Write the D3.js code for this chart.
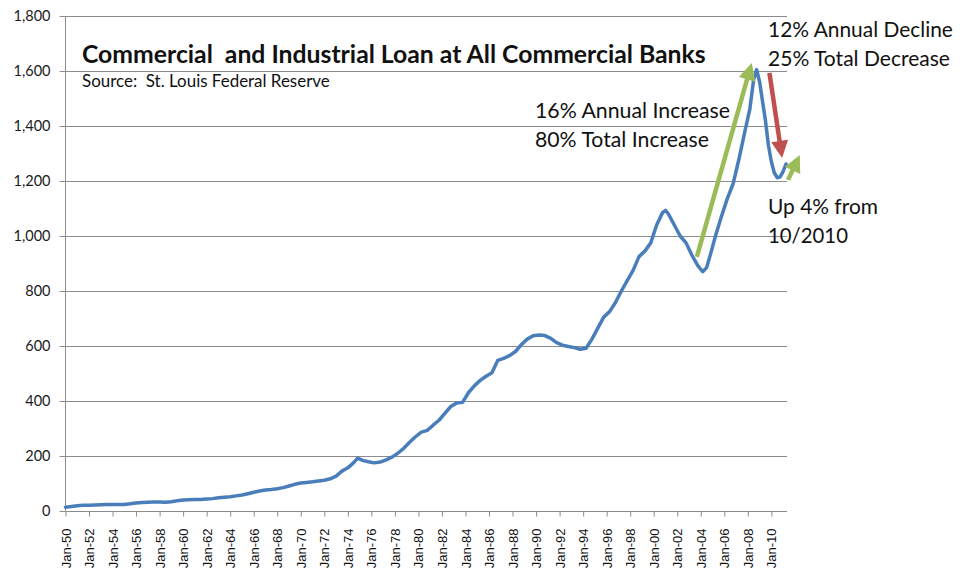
<!DOCTYPE html>
<html>
<head>
<meta charset="utf-8">
<script src="https://cdn.jsdelivr.net/npm/d3@7"></script>
<style>
  html, body { margin: 0; padding: 0; background: #fff; }
  svg { display: block; }
</style>
</head>
<body>
<svg id="chart" width="972" height="569"></svg>
<script>
// Commercial and industrial loans, all commercial banks (billions of dollars)
const months = [
  "1950-01","1950-07","1951-01","1951-07","1952-01","1952-07","1953-01","1953-07",
  "1954-01","1954-07","1955-01","1955-07","1956-01","1956-07","1957-01","1957-07",
  "1958-01","1958-07","1959-01","1959-07","1960-01","1960-07","1961-01","1961-07",
  "1962-01","1962-07","1963-01","1963-07","1964-01","1964-07","1965-01","1965-07",
  "1966-01","1966-07","1967-01","1967-07","1968-01","1968-07","1969-01","1969-07",
  "1970-01","1970-07","1971-01","1971-07","1972-01","1972-07","1973-01","1973-07",
  "1974-01","1974-07","1974-11","1975-04","1975-10","1976-04","1976-10","1977-04",
  "1977-10","1978-04","1978-10","1979-04","1979-10","1980-04","1980-10","1981-04",
  "1981-10","1982-04","1982-10","1983-04","1983-10","1984-04","1984-10","1985-04",
  "1985-10","1986-04","1986-10","1987-04","1987-10","1988-04","1988-10","1989-04",
  "1989-10","1990-04","1990-10","1991-04","1991-10","1992-04","1992-10","1993-04",
  "1993-10","1994-04","1994-10","1995-04","1995-10","1996-04","1996-10","1997-04",
  "1997-10","1998-04","1998-10","1999-04","1999-10","2000-04","2000-10","2001-01",
  "2001-04","2001-10","2002-04","2002-10","2003-04","2003-10","2004-03","2004-07",
  "2004-11","2005-04","2005-10","2006-04","2006-10","2007-04","2007-10","2008-03",
  "2008-07","2008-10","2009-01","2009-04","2009-07","2009-10","2010-01","2010-04",
  "2010-07","2010-10","2011-01","2011-04"
];
const loans = [
  14, 16, 19, 21, 21, 22, 23, 24,
  24, 24, 24, 26, 29, 31, 32, 33,
  33, 32, 34, 37, 40, 41, 42, 42,
  44, 45, 48, 50, 52, 55, 58, 63,
  68, 73, 76, 78, 81, 85, 91, 97,
  102, 104, 106, 109, 112, 117, 127, 145,
  157, 176, 192, 184, 179, 175, 178, 186,
  196, 210, 228, 250, 270, 287, 293, 312,
  330, 355, 380, 393, 395, 430, 455, 475,
  490, 503, 548, 555, 565, 580, 605, 625,
  637, 640, 638, 628, 612, 603, 598, 594,
  588, 592, 625, 665, 705, 725, 758, 800,
  838, 875, 925, 945, 975, 1040, 1085, 1093,
  1080, 1040, 1000, 975, 930, 892, 870, 885,
  935, 1000, 1070, 1135, 1190, 1280, 1380, 1460,
  1570, 1605, 1560, 1490, 1420, 1330, 1270, 1230,
  1212, 1215, 1235, 1262
];

const yTicks = [0, 200, 400, 600, 800, 1000, 1200, 1400, 1600, 1800];
const xTickLabels = [
  "Jan-50","Jan-52","Jan-54","Jan-56","Jan-58","Jan-60","Jan-62","Jan-64",
  "Jan-66","Jan-68","Jan-70","Jan-72","Jan-74","Jan-76","Jan-78","Jan-80",
  "Jan-82","Jan-84","Jan-86","Jan-88","Jan-90","Jan-92","Jan-94","Jan-96",
  "Jan-98","Jan-00","Jan-02","Jan-04","Jan-06","Jan-08","Jan-10"
];

// Trend arrows: [start month, start value, end month, end value]
const riseArrow = ["2003-09", 924, "2008-05", 1629];
const fallArrow = ["2009-11", 1593, "2010-12", 1284];
const reboundArrow = ["2011-06", 1204, "2012-06", 1295];

const title = "Commercial  and Industrial Loan at All Commercial Banks";
const source = "Source:  St. Louis Federal Reserve";
const riseNotes = ["16% Annual Increase", "80% Total Increase"];
const fallNotes = ["12% Annual Decline", "25% Total Decrease"];
const reboundNotes = ["Up 4% from", "10/2010"];

const parse = d3.timeParse("%Y-%m");
// "Jan-50" .. "Jan-10": two-digit years from 50 up belong to the 1900s
function parseTick(s) {
  const yy = +s.slice(4);
  return new Date(yy >= 50 ? 1900 + yy : 2000 + yy, 0, 1);
}
const series = months.map((m, i) => ({ date: parse(m), value: loans[i] }));
const tickDates = xTickLabels.map(parseTick);

const svg = d3.select("#chart");
const plot = { left: 65.5, right: 787, top: 16, bottom: 511 };

const x = d3.scaleTime()
  .domain([parse("1950-01"), parse("2011-05")])
  .range([plot.left, plot.right]);
const y = d3.scaleLinear()
  .domain([0, 1800])
  .range([plot.bottom, plot.top]);

const gridColor = "#8c8c8c";

// Horizontal gridlines
svg.append("g")
  .selectAll("line")
  .data(yTicks.filter(d => d > 0))
  .join("line")
  .attr("x1", plot.left)
  .attr("x2", plot.right)
  .attr("y1", d => Math.round(y(d)) + 0.5)
  .attr("y2", d => Math.round(y(d)) + 0.5)
  .attr("stroke", gridColor)
  .attr("stroke-width", 1);

// Y axis
const yAxis = svg.append("g")
  .attr("transform", `translate(${plot.left},0)`)
  .call(d3.axisLeft(y).tickValues(yTicks).tickSize(6).tickPadding(9).tickFormat(d3.format(",")));
yAxis.select(".domain").attr("stroke", gridColor).attr("d", `M0,${plot.top}V${plot.bottom}`);
yAxis.selectAll(".tick line").attr("stroke", gridColor);
yAxis.selectAll(".tick text")
  .attr("font-family", "Lato, 'Open Sans', sans-serif")
  .attr("font-size", 14.5)
  .attr("fill", "#1a1a1a");

// X axis
const xAxis = svg.append("g")
  .attr("transform", `translate(0,${plot.bottom + 0.5})`)
  .call(d3.axisBottom(x)
    .tickValues(tickDates)
    .tickSize(5)
    .tickFormat((d, i) => xTickLabels[i]));
xAxis.select(".domain").attr("stroke", gridColor).attr("d", `M${plot.left},0H${plot.right}`);
xAxis.selectAll(".tick line").attr("stroke", gridColor);
xAxis.selectAll(".tick text")
  .attr("font-family", "'Liberation Sans', Arial, sans-serif")
  .attr("font-size", 13)
  .attr("fill", "#111")
  .attr("text-anchor", "end")
  .attr("dy", "0.35em")
  .attr("transform", "translate(0,17) rotate(-90)")
  .attr("x", 0)
  .attr("y", 0);

// Loan series
svg.append("path")
  .datum(series)
  .attr("fill", "none")
  .attr("stroke", "#4a7ebb")
  .attr("stroke-width", 3.5)
  .attr("stroke-linejoin", "round")
  .attr("stroke-linecap", "round")
  .attr("d", d3.line().x(d => x(d.date)).y(d => y(d.value)));

// Arrows
function arrow(spec, color) {
  const x0 = x(parse(spec[0])), y0 = y(spec[1]);
  const x1 = x(parse(spec[2])), y1 = y(spec[3]);
  const ang = Math.atan2(y1 - y0, x1 - x0);
  const headLen = 17, headHalf = 8.5;
  const bx = x1 - headLen * Math.cos(ang), by = y1 - headLen * Math.sin(ang);
  const nx = -Math.sin(ang), ny = Math.cos(ang);
  svg.append("line")
    .attr("x1", x0).attr("y1", y0)
    .attr("x2", bx + 2 * Math.cos(ang)).attr("y2", by + 2 * Math.sin(ang))
    .attr("stroke", color)
    .attr("stroke-width", 4.5);
  svg.append("path")
    .attr("d", `M${x1},${y1}L${bx + nx * headHalf},${by + ny * headHalf}L${bx - nx * headHalf},${by - ny * headHalf}Z`)
    .attr("fill", color);
}
arrow(riseArrow, "#9bbb59");
arrow(fallArrow, "#c0504d");
arrow(reboundArrow, "#9bbb59");

// Text helpers
function fitText(sel, width) {
  const w = sel.node().getComputedTextLength();
  const fs = parseFloat(sel.attr("font-size"));
  sel.attr("font-size", (fs * width / w).toFixed(2));
  return sel;
}
function label(str, px, py, size, width, weight) {
  const t = svg.append("text")
    .attr("x", px)
    .attr("y", py)
    .attr("font-family", "Lato, 'Open Sans', sans-serif")
    .attr("font-size", size)
    .attr("font-weight", weight || "normal")
    .attr("fill", "#111")
    .style("white-space", "pre")
    .text(str);
  return fitText(t, width);
}

label(title, 82, 63, 21, 624, "bold");
label(source, 82, 87, 14, 248);

label(riseNotes[0], 535, 118, 19, 195);
label(riseNotes[1], 535, 147, 19, 174);
label(fallNotes[0], 768, 37, 19, 185);
label(fallNotes[1], 768, 66, 19, 182);
label(reboundNotes[0], 768, 214, 19, 110);
label(reboundNotes[1], 768, 243, 19, 80);
</script>
</body>
</html>
